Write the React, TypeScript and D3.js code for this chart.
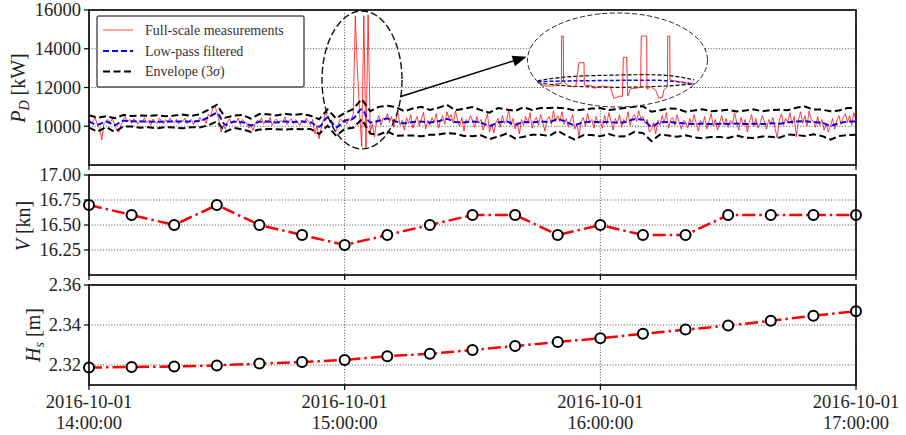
import React from 'react';
import * as d3 from 'd3';

const W = 906;
const H = 435;
const FONT = "'Liberation Serif', 'Times New Roman', serif";

// time axis: 2016-10-01 14:00 -> 17:00
const start = new Date(2016, 9, 1, 14, 0, 0);
const end = new Date(2016, 9, 1, 17, 0, 0);
const atMin = (m: number) => new Date(start.getTime() + m * 60000);

// 10-minute averages
const avgStepMin = 10;
const speedKn = [16.7, 16.6, 16.5, 16.7, 16.5, 16.4, 16.3, 16.4, 16.5, 16.6, 16.6, 16.4, 16.5, 16.4, 16.4, 16.6, 16.6, 16.6, 16.6];
const waveHs = [2.3187, 2.319, 2.3192, 2.3198, 2.3207, 2.3215, 2.3225, 2.3244, 2.3256, 2.3275, 2.3295, 2.3315, 2.3334, 2.3356, 2.3377, 2.3397, 2.3421, 2.3446, 2.3469];

// full-scale delivered power, 30 s samples [kW]
const measStepMin = 0.5;
const powerKW = [
  10380, 10150, 10290, 10420, 10050, 9900, 9300, 10120, 10260, 10350, 10180, 10400, 10090, 9820, 9700, 10050, 10310, 10480, 10220, 10350,
  10150, 10390, 10260, 10100, 10330, 10200, 10440, 10180, 10290, 10060, 10370, 10230, 10150, 10410, 10280, 10120, 10340, 10190, 10420, 10260,
  10180, 10360, 10110, 10300, 10240, 10420, 10130, 10270, 10350, 10090, 10310, 10200, 10450, 10280, 10390, 10150, 10620, 10480, 10900, 11050,
  10750, 10320, 9700, 10050, 9850, 10250, 10380, 10120, 10300, 10190, 10420, 10080, 10350, 10210, 10160, 9900, 10020, 9780, 10150, 10300,
  10250, 10420, 10100, 10320, 10180, 10460, 10050, 10280, 10370, 10140, 10300, 10210, 10480, 10090, 10260, 10390, 10130, 10340, 10200, 10050,
  10300, 10150, 10420, 10240, 10080, 10350, 9600, 10050, 9350, 9900, 10300, 10650, 10520, 10300, 10100, 9850, 9750, 10100, 10380, 10250,
  10350, 10120, 10400, 10280, 10600, 15700, 12900, 10700, 8950, 15700, 8900, 15750, 9700, 10100, 9450, 10250, 10550, 10050, 10420, 10300,
  10650, 10200, 10500, 9950, 10350, 10700, 10050, 10300, 9800, 10450, 10150, 10600, 9900, 10250, 10500, 10000, 10380, 10720, 9850, 10300,
  10050, 10450, 10200, 10650, 9900, 10300, 10550, 10100, 10750, 10400, 10600, 10150, 10800, 10300, 10000, 10450, 9750, 10350, 10200, 10550,
  10300, 9950, 10500, 10150, 10350, 9800, 10250, 10650, 9700, 10100, 9650, 10200, 10400, 9950, 10550, 10150, 10300, 10850, 10050, 10400,
  9850, 10200, 9600, 10350, 10050, 10500, 10150, 10700, 9900, 10300, 10450, 10050, 10600, 10200, 9750, 10350, 10500, 10100, 10800, 10250,
  10550, 10250, 10750, 10100, 10400, 9950, 10300, 10600, 9850, 10150, 9500, 10250, 10450, 10000, 10650, 10200, 10350, 9900, 10500, 10150,
  10300, 9900, 10550, 10100, 10700, 10250, 9800, 10400, 10150, 10600, 9950, 10350, 10200, 10750, 10050, 10450, 10600, 10250, 10800, 10400,
  10500, 10150, 10350, 9700, 9850, 10200, 9600, 10300, 10050, 10550, 10200, 10700, 9900, 10350, 10450, 10050, 10600, 10200, 9850, 10300,
  10250, 9900, 10400, 10050, 10600, 10150, 9750, 10300, 10100, 10500, 9850, 10250, 10650, 10000, 10350, 9800, 10200, 10550, 10050, 10400,
  9950, 10300, 10100, 10700, 10200, 9800, 10450, 10050, 10350, 9700, 10250, 10600, 10000, 10400, 9900, 10150, 10550, 10250, 9850, 10350,
  10100, 10450, 9900, 9400, 10300, 10650, 10050, 10400, 10200, 10700, 10100, 10500, 9450, 10350, 10750, 10150, 10550, 10000, 10800, 10350,
  10250, 9950, 10500, 10050, 10350, 9800, 10150, 9700, 10000, 10400, 9850, 10300, 10550, 10100, 10450, 10650, 10200, 10550, 10050, 10700,
  10300,
];

// low-pass filtered power and 3-sigma half width, 2 min grid [kW]
const filtStepMin = 2;
const lowPassKW = [
  10250, 10080, 10240, 10060, 10280, 10260, 10240, 10240, 10230, 10240,
  10240, 10250, 10240, 10280, 10450, 10680, 10080, 10230, 10210, 10050,
  10230, 10240, 10200, 10240, 10220, 10240, 10200, 9980, 10450, 9950,
  10280, 10400, 10880, 10200, 10280, 10400, 10250, 10150, 10220, 10240,
  10200, 10260, 10380, 10220, 10200, 10240, 10180, 10020, 10200, 10240,
  10080, 10220, 10200, 10250, 10220, 10360, 10220, 10060, 10200, 10230,
  10210, 10220, 10180, 10220, 10360, 10340, 9990, 10200, 10220, 10180,
  10140, 10120, 10130, 10110, 10130, 10120, 10140, 10110, 10130, 10120,
  10150, 10130, 10200, 10250, 10260, 10220, 10180, 10040, 10150, 10240,
  10250,
];
const envHalfKW = [
  320, 360, 280, 350, 300, 270, 320, 290, 340, 280, 310, 350, 290,
  340, 400, 430, 360,
  320, 370, 340, 400, 380, 350, 410, 360, 390, 340, 380,
  420, 450, 410,
  480, 520, 580,
  720, 660, 740, 620, 700, 760, 640, 690, 730, 610,
  700, 750, 650, 680, 740, 620, 710, 760, 640, 690,
  720, 600, 700, 750, 660, 680, 730, 620, 710, 740,
  650, 690, 760, 630, 700, 720, 610, 690, 750, 660,
  680, 730, 620, 700, 740, 650, 690, 720, 630, 710,
  760, 640, 680, 730, 660, 700, 690,
];

// zoomed detail of the spike event (minutes after 14:00, kW)
const zoomMin = [61.59, 61.75, 62.01, 62.06, 62.24, 62.25, 62.3, 62.31, 62.48, 62.69, 62.79, 62.95, 62.96, 63.21, 63.26, 63.52, 63.78, 63.88, 64.09, 64.15, 64.18, 64.28, 64.32, 64.41, 64.56, 64.72, 64.74, 64.91, 64.92, 65.03, 65.19, 65.29, 65.4, 65.45, 65.56, 65.57, 65.63, 65.64, 65.78, 66.18, 66.38];
const zoomKW = [10420, 10200, 10200, 10420, 10500, 15670, 15670, 10670, 10130, 10130, 12750, 12750, 10310, 10200, 9950, 10200, 10060, 8860, 9110, 9030, 13340, 13340, 9110, 9950, 9950, 10060, 15670, 15670, 9840, 10130, 9770, 8860, 8970, 9770, 10130, 15670, 15670, 10860, 10780, 10500, 10420];
const zoomEnvMin = [61.5, 62.5, 64.1, 65.5, 66.4];
const zoomUpperKW = [10780, 11220, 11410, 11370, 10860];
const zoomLowPassKW = [10670, 10760, 10820, 10790, 10400];
const zoomLowerKW = [10560, 10200, 10060, 10200, 10440];

const pdTicks = [10000, 12000, 14000, 16000];
const vTicks = [16.25, 16.5, 16.75, 17.0];
const hsTicks = [2.32, 2.34, 2.36];

const X0 = 89;
const X1 = 856;

const x = d3.scaleTime().domain([start, end]).range([X0, X1]);
const yPd = d3.scaleLinear().domain([8000, 16000]).range([165, 10]);
const yV = d3.scaleLinear().domain([16, 17]).range([275, 175]);
const yHs = d3.scaleLinear().domain([2.31, 2.36]).range([385, 285]);
const hours = x.ticks(d3.timeHour.every(1)!);

// inset window: mapped into the annotation ellipse
const insetX = d3.scaleLinear().domain([61.5, 66.5]).range([x(atMin(105.3)), x(atMin(142.8))]);
const insetY = d3.scaleLinear().domain([9000, 16000]).range([yPd(11510), yPd(14813)]);

const GRID = { stroke: '#333', strokeWidth: 0.9, strokeDasharray: '1,1.8' };

function Frame({ y, ticks, fmt, showX }: { y: d3.ScaleLinear<number, number>; ticks: number[]; fmt: (v: number) => string; showX: boolean }) {
  const [bottom, top] = y.range();
  return (
    <g>
      {ticks.map((t) => (
        <line key={'g' + t} x1={X0} x2={X1} y1={y(t)} y2={y(t)} {...GRID} />
      ))}
      {hours.map((h) => (
        <line key={'gx' + h.getTime()} x1={x(h)} x2={x(h)} y1={top} y2={bottom} {...GRID} />
      ))}
      {ticks.map((t) => (
        <g key={'t' + t}>
          <line x1={X0 - 5} x2={X0} y1={y(t)} y2={y(t)} stroke="#000" strokeWidth={1.2} />
          <text x={X0 - 8} y={y(t)} dy="0.35em" textAnchor="end" fontSize={18.5} fill="#222">{fmt(t)}</text>
        </g>
      ))}
      {hours.map((h) => (
        <g key={'tx' + h.getTime()}>
          <line x1={x(h)} x2={x(h)} y1={bottom} y2={bottom + 5} stroke="#000" strokeWidth={1.2} />
          {showX && (
            <text x={x(h)} textAnchor="middle" fontSize={18.5} fill="#222">
              <tspan x={x(h)} y={bottom + 23}>{d3.timeFormat('%Y-%m-%d')(h)}</tspan>
              <tspan x={x(h)} y={bottom + 44}>{d3.timeFormat('%H:%M:%S')(h)}</tspan>
            </text>
          )}
        </g>
      ))}
    </g>
  );
}

function Border({ y }: { y: d3.ScaleLinear<number, number> }) {
  const [bottom, top] = y.range();
  return <rect x={X0} y={top} width={X1 - X0} height={bottom - top} fill="none" stroke="#000" strokeWidth={1.6} />;
}

export default function App() {
  const measLine = d3.line<number>().x((_, i) => x(atMin(i * measStepMin))).y((d) => yPd(d));
  const lpLine = d3.line<number>().x((_, i) => x(atMin(i * filtStepMin))).y((d) => yPd(d)).curve(d3.curveMonotoneX);
  const upLine = d3.line<number>().x((_, i) => x(atMin(i * filtStepMin))).y((d, i) => yPd(lowPassKW[i] + d));
  const loLine = d3.line<number>().x((_, i) => x(atMin(i * filtStepMin))).y((d, i) => yPd(lowPassKW[i] - d));
  const vLine = d3.line<number>().x((_, i) => x(atMin(i * avgStepMin))).y((d) => yV(d));
  const hsLine = d3.line<number>().x((_, i) => x(atMin(i * avgStepMin))).y((d) => yHs(d));

  const zoomLine = d3.line<number>().x((_, i) => insetX(zoomMin[i])).y((d) => insetY(d));
  const zoomEnv = d3.line<number>().x((_, i) => insetX(zoomEnvMin[i])).y((d) => insetY(d)).curve(d3.curveNatural);

  // spike annotation ellipse
  const ecx = x(atMin(64.07));
  const ecy = yPd(12390);
  const erx = x(atMin(64.07 + 9.39)) - ecx;
  const ery = yPd(12390 - 3560) - ecy;
  // inset ellipse
  const icx = x(atMin(124.03));
  const icy = yPd(13420);
  const irx = x(atMin(124.03 + 21.12)) - icx;
  const iry = yPd(13420 - 2426) - icy;
  // arrow
  const ax1 = x(atMin(73));
  const ay1 = yPd(11525);
  const ax2 = x(atMin(102.7));
  const ay2 = yPd(13590);
  const ang = Math.atan2(ay2 - ay1, ax2 - ax1);
  const hl = 14;
  const hw = 5.5;
  const bx = ax2 - hl * Math.cos(ang);
  const by = ay2 - hl * Math.sin(ang);
  const head = `M${ax2},${ay2}L${bx - hw * Math.sin(ang)},${by + hw * Math.cos(ang)}L${bx + hw * Math.sin(ang)},${by - hw * Math.cos(ang)}Z`;

  const legendRows = [30, 51, 71.5];

  return (
    <svg width={W} height={H} style={{ position: 'absolute', left: 0, top: 0, background: '#fff' }} fontFamily={FONT}>
      <defs>
        <clipPath id="pd-clip">
          <rect x={X0} y={10} width={X1 - X0} height={155} />
        </clipPath>
      </defs>

      {/* panel 1: delivered power */}
      <Frame y={yPd} ticks={pdTicks} fmt={d3.format('d')} showX={false} />
      <g clipPath="url(#pd-clip)">
        <path d={measLine(powerKW) ?? ''} fill="none" stroke="#ff0000" strokeOpacity={0.75} strokeWidth={1} />
        <path d={upLine(envHalfKW) ?? ''} fill="none" stroke="#000" strokeWidth={2} strokeDasharray="7,3.5" />
        <path d={loLine(envHalfKW) ?? ''} fill="none" stroke="#000" strokeWidth={2} strokeDasharray="7,3.5" />
        <path d={lpLine(lowPassKW) ?? ''} fill="none" stroke="#0000ff" strokeWidth={2} strokeDasharray="6,3" />
      </g>
      <ellipse cx={ecx} cy={ecy} rx={erx} ry={ery} fill="none" stroke="#111" strokeWidth={1.4} strokeDasharray="7,3" />
      <line x1={ax1} y1={ay1} x2={bx} y2={by} stroke="#000" strokeWidth={1.5} />
      <path d={head} fill="#000" />
      <ellipse cx={icx} cy={icy} rx={irx} ry={iry} fill="#fff" stroke="#222" strokeWidth={1} strokeDasharray="5,2.5" />
      <path d={zoomEnv(zoomUpperKW) ?? ''} fill="none" stroke="#000" strokeWidth={1.2} strokeDasharray="4,2" />
      <path d={zoomEnv(zoomLowerKW) ?? ''} fill="none" stroke="#000" strokeWidth={1.2} strokeDasharray="4,2" />
      <path d={zoomEnv(zoomLowPassKW) ?? ''} fill="none" stroke="#0000ff" strokeWidth={1.5} strokeDasharray="4,2" />
      <path d={zoomLine(zoomKW) ?? ''} fill="none" stroke="#ff0000" strokeOpacity={0.8} strokeWidth={1} />
      <Border y={yPd} />

      {/* legend */}
      <g>
        <rect x={97} y={16} width={207} height={71} rx={2} fill="#fff" stroke="#555" strokeWidth={1.5} />
        <line x1={103} x2={133} y1={legendRows[0]} y2={legendRows[0]} stroke="#ff0000" strokeOpacity={0.6} strokeWidth={1.2} />
        <line x1={103} x2={133} y1={legendRows[1]} y2={legendRows[1]} stroke="#0000ff" strokeWidth={2} strokeDasharray="6,3" />
        <line x1={103} x2={133} y1={legendRows[2]} y2={legendRows[2]} stroke="#000" strokeWidth={2} strokeDasharray="7,3.5" />
        <text x={145} y={legendRows[0]} dy="0.33em" fontSize={14} fill="#333">Full-scale measurements</text>
        <text x={145} y={legendRows[1]} dy="0.33em" fontSize={14} fill="#333">Low-pass filtered</text>
        <text x={145} y={legendRows[2]} dy="0.33em" fontSize={14} fill="#333">
          Envelope (3<tspan fontStyle="italic">σ</tspan>)
        </text>
      </g>

      {/* panel 2: ship speed */}
      <Frame y={yV} ticks={vTicks} fmt={d3.format('.2f')} showX={false} />
      <path d={vLine(speedKn) ?? ''} fill="none" stroke="#ff0000" strokeWidth={2.5} strokeDasharray="13,4,2.5,4" />
      {speedKn.map((v, i) => (
        <circle key={i} cx={x(atMin(i * avgStepMin))} cy={yV(v)} r={5} fill="#fff" stroke="#000" strokeWidth={2} />
      ))}
      <Border y={yV} />

      {/* panel 3: significant wave height */}
      <Frame y={yHs} ticks={hsTicks} fmt={d3.format('.2f')} showX={true} />
      <path d={hsLine(waveHs) ?? ''} fill="none" stroke="#ff0000" strokeWidth={2.5} strokeDasharray="13,4,2.5,4" />
      {waveHs.map((v, i) => (
        <circle key={i} cx={x(atMin(i * avgStepMin))} cy={yHs(v)} r={5} fill="#fff" stroke="#000" strokeWidth={2} />
      ))}
      <Border y={yHs} />

      {/* axis labels */}
      <text transform="translate(25,88) rotate(-90)" textAnchor="middle" fontSize={20} fill="#222">
        <tspan fontStyle="italic">P</tspan>
        <tspan fontStyle="italic" fontSize={14} dy={4}>D</tspan>
        <tspan dy={-4}> [kW]</tspan>
      </text>
      <text transform="translate(30,226) rotate(-90)" textAnchor="middle" fontSize={20} fill="#222">
        <tspan fontStyle="italic">V</tspan>
        <tspan> [kn]</tspan>
      </text>
      <text transform="translate(40,335) rotate(-90)" textAnchor="middle" fontSize={20} fill="#222">
        <tspan fontStyle="italic">H</tspan>
        <tspan fontStyle="italic" fontSize={14} dy={4}>s</tspan>
        <tspan dy={-4}> [m]</tspan>
      </text>
    </svg>
  );
}
